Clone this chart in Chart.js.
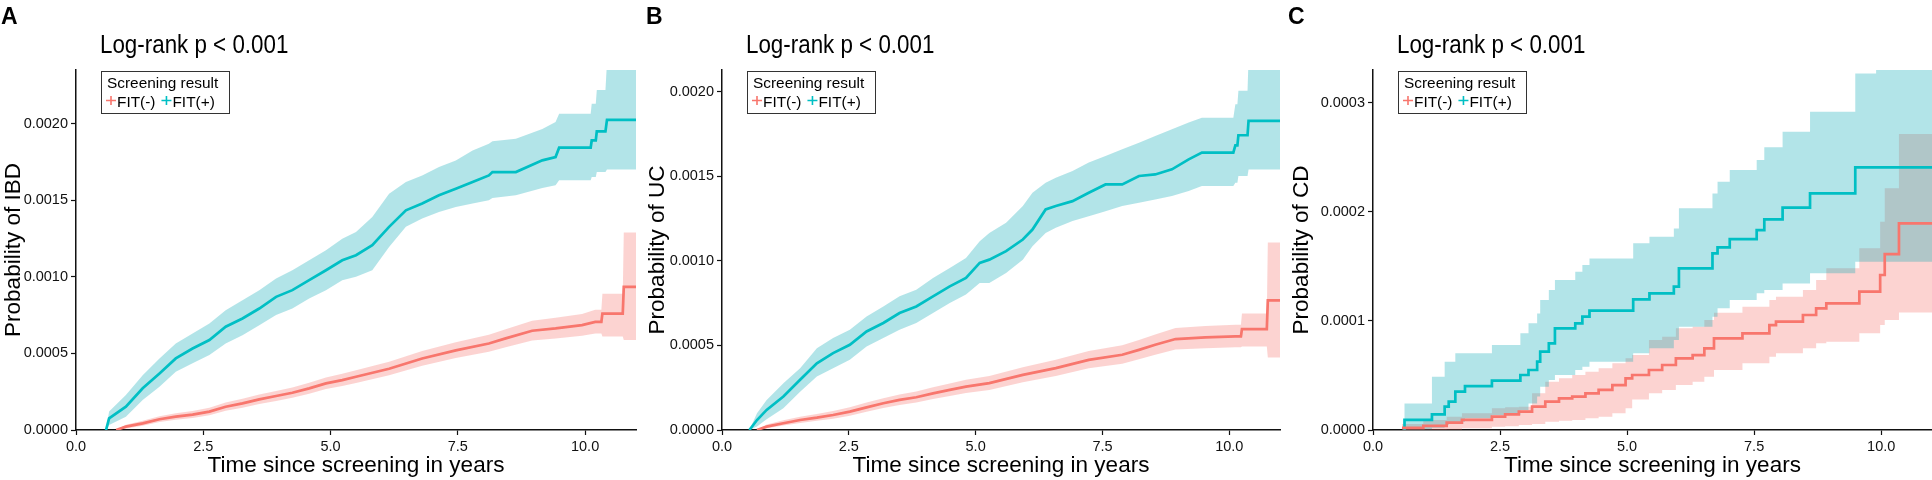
<!DOCTYPE html>
<html>
<head>
<meta charset="utf-8">
<title>Cumulative incidence by screening result</title>
<script src="https://cdn.jsdelivr.net/npm/chart.js@4.4.1/dist/chart.umd.min.js"></script>
<style>
  html, body { margin: 0; padding: 0; background: #fff; }
  body { width: 1932px; height: 480px; position: relative; overflow: hidden; }
  canvas { position: absolute; top: 0; }
</style>
</head>
<body>
<canvas id="chartA" width="644" height="480" style="left:0px"></canvas>
<canvas id="chartB" width="644" height="480" style="left:644px"></canvas>
<canvas id="chartC" width="644" height="480" style="left:1288px"></canvas>
<script>
//================================ Data =================================

const xTicks = [0, 2.5, 5, 7.5, 10];
const ibdYTicks = [0, 0.0005, 0.001, 0.0015, 0.002];
const ucYTicks = [0, 0.0005, 0.001, 0.0015, 0.002];
const cdYTicks = [0, 0.0001, 0.0002, 0.0003];
const groupLabels = ['FIT(-)', 'FIT(+)'];

// A - IBD, FIT(-)
const ibdNegTime = [0.79, 0.98, 1.31, 1.64, 1.96, 2.29, 2.62, 2.94, 3.27, 3.60, 3.93, 4.25, 4.58, 4.91, 5.23, 5.50, 6.15, 6.80, 7.46, 8.11, 8.44, 8.96, 9.42, 9.94, 10.20, 10.32, 10.34, 10.74, 10.76, 11.0];
const ibdNegEst = [0, .000022, .000043, .00007, .000087, .0001, .00012, .000152, .000174, .0002, .000222, .000243, .000272, .000304, .000326, .000348, .0004, .000467, .00052, .000565, .000598, .000648, .000663, .000685, .000706, .000706, .00076, .00076, .000934, .000934];
const ibdNegUpp = [0, .000035, .000061, .00009, .00011, .000124, .000146, .00018, .000204, .000231, .000255, .000278, .000309, .000343, .000367, .00039, .000445, .000515, .000572, .000622, .000658, .000713, .000732, .000758, .000785, .000785, .00089, .00089, .00129, .00129];
const ibdNegLow = [0, .00001, .000028, .000052, .000067, .000078, .000096, .000126, .000146, .00017, .00019, .00021, .000237, .000267, .000287, .000307, .000357, .00042, .00047, .00051, .00054, .000585, .000597, .000615, .00063, .00063, .00061, .00061, .000587, .000587];

// A - IBD, FIT(+)
const ibdPosTime = [0.59, 0.65, 0.98, 1.31, 1.64, 1.96, 2.29, 2.62, 2.94, 3.27, 3.60, 3.93, 4.25, 4.58, 4.91, 5.23, 5.50, 5.82, 6.15, 6.48, 6.80, 7.13, 7.46, 7.79, 8.11, 8.18, 8.64, 9.16, 9.42, 9.49, 10.11, 10.13, 10.21, 10.23, 10.40, 10.43, 11.0];
const ibdPosEst = [0, .000076, .000152, .000272, .000369, .000467, .000532, .000587, .000674, .000728, .000793, .000869, .000913, .000978, .001043, .001108, .001141, .001206, .001326, .001434, .001478, .001532, .001575, .001619, .001662, .001684, .001684, .00176, .001782, .001843, .001843, .00189, .00189, .001949, .001949, .002025, .002025];
const ibdPosUpp = [0, .00012, .000228, .000358, .000467, .000565, .00063, .000695, .000782, .000847, .000913, .000989, .001043, .001108, .001173, .001249, .001293, .001391, .001543, .001619, .001662, .001717, .00176, .001825, .001869, .001885, .001901, .001965, .00201, .002064, .002064, .00213, .00213, .00222, .00222, .0024, .0024];
const ibdPosLow = [0, .000033, .000087, .000196, .000283, .00038, .000435, .000489, .000565, .000619, .000684, .00075, .000793, .000858, .000913, .000978, .001, .001043, .001195, .001326, .00138, .001423, .001456, .001478, .001499, .001515, .001532, .00158, .001597, .00163, .00163, .001651, .001651, .001684, .001684, .0017, .0017];

// B - UC, FIT(-)
const ucNegTime = [0.69, 0.88, 1.21, 1.54, 1.87, 2.19, 2.52, 2.85, 3.18, 3.50, 3.83, 4.16, 4.49, 4.81, 5.27, 5.93, 6.58, 7.23, 7.89, 8.22, 8.54, 8.94, 9.53, 10.12, 10.23, 10.25, 10.74, 10.76, 11.0];
const ucNegEst = [0, .00002, .00004, .000059, .000073, .000089, .000109, .000134, .000158, .000178, .000194, .000217, .000237, .000257, .000277, .000326, .000366, .000415, .000445, .000474, .000504, .000538, .000548, .000554, .000554, .000597, .000597, .000767, .000767];
const ucNegUpp = [0, .000032, .000057, .000079, .000095, .000113, .000135, .000162, .000188, .00021, .000228, .000253, .000275, .000297, .000319, .000372, .000415, .000467, .000501, .000532, .000565, .000603, .000615, .000622, .000622, .00069, .00069, .00111, .00111];
const ucNegLow = [0, .00001, .000026, .000042, .000054, .000067, .000085, .000108, .00013, .000148, .000162, .000183, .000201, .000219, .000237, .000282, .000319, .000365, .000392, .000418, .000445, .000476, .000484, .000489, .000489, .000494, .000494, .000429, .000429];

// B - UC, FIT(+)
const ucPosTime = [0.54, 0.69, 0.88, 1.21, 1.54, 1.87, 2.19, 2.52, 2.85, 3.18, 3.50, 3.83, 4.16, 4.49, 4.81, 5.08, 5.27, 5.60, 5.93, 6.12, 6.38, 6.58, 6.91, 7.23, 7.56, 7.89, 8.22, 8.54, 8.87, 9.20, 9.46, 10.08, 10.12, 10.16, 10.18, 10.36, 10.38, 11.0];
const ucPosEst = [0, .000059, .000119, .000198, .000297, .000395, .000455, .000504, .000583, .000633, .000692, .000731, .000791, .00085, .0009, .000989, .001008, .001058, .001127, .001186, .001305, .001325, .001354, .001404, .001453, .001453, .001503, .001512, .001542, .001601, .001641, .001641, .001684, .001684, .001744, .001744, .001829, .001829];
const ucPosUpp = [0, .000099, .000178, .000277, .000366, .000484, .000544, .000593, .000672, .000731, .000791, .00083, .0009, .000959, .001018, .001117, .001166, .001226, .001325, .001404, .001463, .001493, .001532, .001582, .001621, .001661, .0017, .00174, .001779, .001819, .001848, .001848, .001928, .001928, .002007, .002007, .0022, .0022];
const ucPosLow = [0, .00002, .000063, .000129, .000227, .000316, .000366, .000415, .000494, .000544, .000593, .000633, .000692, .000751, .000801, .00087, .00087, .000929, .001008, .001087, .001166, .001196, .001236, .001265, .001295, .001325, .001344, .001364, .001384, .001414, .001443, .001443, .001463, .001463, .001503, .001503, .001542, .001542];

// C - CD, FIT(-)
const cdNegTime = [0.57, 0.99, 1.45, 1.75, 2.34, 2.60, 2.87, 3.13, 3.39, 3.66, 3.92, 4.18, 4.44, 4.71, 4.97, 5.10, 5.43, 5.69, 5.96, 6.29, 6.52, 6.71, 7.27, 7.80, 7.93, 8.46, 8.72, 8.92, 9.57, 9.98, 10.07, 10.35, 11.0];
const cdNegEst = [.000002, .0000037, .0000067, .0000092, .0000122, .0000144, .0000168, .0000214, .000026, .000029, .0000306, .0000336, .0000367, .0000412, .0000474, .0000504, .000055, .0000596, .0000657, .0000687, .0000749, .000084, .0000886, .0000962, .0000993, .0001054, .0001115, .0001161, .0001268, .0001421, .0001613, .0001894, .0001894];
const cdNegUpp = [.0000055, .0000092, .0000122, .0000153, .0000199, .0000208, .0000214, .0000336, .0000443, .0000474, .0000504, .0000535, .0000565, .0000611, .0000657, .0000687, .0000825, .0000855, .0000932, .0000947, .0001008, .0001075, .000113, .0001191, .0001222, .0001283, .0001375, .0001482, .0001665, .0001909, .0002215, .0002713, .0002713];
const cdNegLow = [0, 0, .0000003, .0000015, .000003, .0000035, .0000046, .0000055, .0000076, .0000085, .0000092, .0000107, .0000122, .0000153, .0000199, .000028, .0000336, .0000367, .0000412, .0000443, .0000489, .000055, .0000611, .0000672, .0000703, .0000749, .0000795, .000081, .0000886, .0000962, .0001008, .0001078, .0001078];

// C - CD, FIT(+)
const cdPosTime = [0.60, 0.62, 1.16, 1.41, 1.49, 1.62, 1.81, 2.34, 2.90, 3.06, 3.23, 3.29, 3.46, 3.58, 3.98, 4.12, 4.26, 5.12, 5.44, 5.92, 6.02, 6.68, 6.78, 7.02, 7.55, 7.70, 8.06, 8.60, 9.49, 9.90, 11.0];
const cdPosEst = [0, .0000092, .0000144, .0000214, .000026, .0000351, .0000403, .0000452, .0000504, .000055, .0000626, .0000718, .0000794, .0000932, .0000978, .0001039, .0001094, .0001198, .0001253, .0001314, .0001482, .0001619, .0001674, .000175, .0001833, .0001931, .0002038, .0002169, .0002407, .0002407, .0002407];
const cdPosUpp = [0, .0000244, .0000489, .0000626, .0000626, .0000703, .0000703, .0000779, .0000886, .0000978, .0001069, .0001191, .0001283, .0001375, .0001451, .0001512, .0001573, .0001711, .0001772, .0001848, .0002032, .0002169, .0002276, .0002383, .0002475, .0002591, .0002734, .0002918, .0003269, .00034, .00034];
const cdPosLow = [0, .0000006, .0000021, .0000046, .0000061, .0000076, .0000107, .0000137, .0000183, .0000244, .0000306, .0000397, .0000458, .0000504, .000055, .000058, .0000626, .0000703, .0000749, .0000825, .0000947, .0001039, .0001115, .0001191, .0001253, .0001283, .0001344, .0001436, .0001543, .0001543, .0001543];

//================================ Styles =================================

const RED = '#F8766D';
const TEAL = '#00BFC4';
const RED_FILL = 'rgba(245, 110, 104, 0.3)';
const TEAL_FILL = 'rgba(0, 165, 178, 0.3)';
const AXIS = '#111';
const TEXT = '#111';
const FONT = '"Liberation Sans", Arial, Helvetica, sans-serif';

//================================ Helpers =================================

function pts(times, vals) {
    return times.map((t, i) => ({ x: t, y: vals[i] }));
}

function curve(label, times, vals, color, stepped) {
    return {
        label: label,
        data: pts(times, vals),
        borderColor: color,
        borderWidth: 2.7,
        pointRadius: 0,
        stepped: stepped,
        fill: false
    };
}

function band(times, vals, fill, stepped) {
    return {
        label: '',
        data: pts(times, vals),
        borderColor: 'rgba(0,0,0,0)',
        borderWidth: 0,
        pointRadius: 0,
        stepped: stepped,
        fill: fill ? '+1' : false,
        backgroundColor: fill || 'rgba(0,0,0,0)'
    };
}

// panel letter, log-rank text and the boxed legend
const panelDecor = {
    id: 'panelDecor',
    afterDraw(chart, args, opts) {
        const { ctx, chartArea } = chart;
        ctx.save();
        ctx.fillStyle = '#000';
        ctx.textBaseline = 'alphabetic';
        ctx.textAlign = 'left';

        ctx.font = 'bold 23px ' + FONT;
        ctx.fillText(opts.letter, opts.letterX, 24);

        ctx.save();
        ctx.translate(chartArea.left + 24, 53);
        ctx.scale(0.86, 1);
        ctx.font = '26px ' + FONT;
        ctx.fillText('Log-rank p < 0.001', 0, 0);
        ctx.restore();

        const bx = chartArea.left + 25, by = 71, bw = 128, bh = 42;
        ctx.fillStyle = '#fff';
        ctx.fillRect(bx, by, bw, bh);
        ctx.strokeStyle = '#333';
        ctx.lineWidth = 1;
        ctx.strokeRect(bx + 0.5, by + 0.5, bw, bh);

        ctx.fillStyle = '#000';
        ctx.font = '15.4px ' + FONT;
        ctx.fillText('Screening result', bx + 6, 88);

        let x = bx + 5;
        [0, 1].forEach(i => {
            const ds = chart.data.datasets[i];
            ctx.strokeStyle = ds.borderColor;
            ctx.lineWidth = 1.6;
            ctx.beginPath();
            ctx.moveTo(x, 100.5);
            ctx.lineTo(x + 10, 100.5);
            ctx.moveTo(x + 5, 96);
            ctx.lineTo(x + 5, 105);
            ctx.stroke();
            ctx.fillStyle = '#000';
            ctx.fillText(ds.label, x + 11, 106.5);
            x += 11 + ctx.measureText(ds.label).width + 6;
        });
        ctx.restore();
    }
};

function makePanel(id, p) {
    const ctx = document.getElementById(id).getContext('2d');
    return new Chart(ctx, {
        type: 'line',
        data: {
            datasets: [
                curve(groupLabels[0], p.negTime, p.negEst, RED, p.stepped),
                curve(groupLabels[1], p.posTime, p.posEst, TEAL, p.stepped),
                band(p.posTime, p.posUpp, TEAL_FILL, p.stepped),
                band(p.posTime, p.posLow, null, p.stepped),
                band(p.negTime, p.negUpp, RED_FILL, p.stepped),
                band(p.negTime, p.negLow, null, p.stepped)
            ]
        },
        options: {
            responsive: false,
            animation: false,
            events: [],
            layout: {
                padding: { left: 0, right: p.left + 644 - p.plotRight, top: 70, bottom: 0 }
            },
            plugins: {
                legend: { display: false },
                tooltip: { enabled: false },
                panelDecor: { letter: p.letter, letterX: p.letterX }
            },
            scales: {
                x: {
                    type: 'linear',
                    min: 0,
                    max: 11,
                    afterBuildTicks: s => { s.ticks = xTicks.map(v => ({ value: v })); },
                    afterFit: s => { s.height = 50; },
                    ticks: {
                        callback: v => v.toFixed(1),
                        color: TEXT,
                        font: { family: FONT, size: 14.5 },
                        padding: 3,
                        maxRotation: 0,
                        autoSkip: false
                    },
                    grid: { display: true, drawOnChartArea: false, drawTicks: true, tickLength: 5, tickColor: AXIS, tickWidth: 1.2 },
                    border: { display: true, color: AXIS, width: 1.5 },
                    title: {
                        display: true,
                        text: 'Time since screening in years',
                        color: '#000',
                        font: { family: FONT, size: 22.5 },
                        padding: { top: 0, bottom: 1 }
                    }
                },
                y: {
                    type: 'linear',
                    min: 0,
                    max: p.yMax,
                    afterBuildTicks: s => { s.ticks = p.yTicks.map(v => ({ value: v })); },
                    afterFit: s => { s.width = p.axisX - p.left; },
                    ticks: {
                        callback: v => v.toFixed(4),
                        color: TEXT,
                        font: { family: FONT, size: 14.5 },
                        padding: 3,
                        autoSkip: false
                    },
                    grid: { display: true, drawOnChartArea: false, drawTicks: true, tickLength: 5, tickColor: AXIS, tickWidth: 1.2 },
                    border: { display: true, color: AXIS, width: 1.5 },
                    title: {
                        display: true,
                        text: p.yTitle,
                        color: '#000',
                        font: { family: FONT, size: 22.5 },
                        padding: { top: 0, bottom: 0 }
                    }
                }
            }
        },
        plugins: [panelDecor]
    });
}

makePanel('chartA', {
    left: 0, axisX: 76, plotRight: 636, yMax: 0.00235, yTicks: ibdYTicks,
    letter: 'A', letterX: 1, yTitle: 'Probability of IBD', stepped: false,
    negTime: ibdNegTime, negEst: ibdNegEst, negUpp: ibdNegUpp, negLow: ibdNegLow,
    posTime: ibdPosTime, posEst: ibdPosEst, posUpp: ibdPosUpp, posLow: ibdPosLow
});

makePanel('chartB', {
    left: 644, axisX: 722, plotRight: 1280, yMax: 0.00213, yTicks: ucYTicks,
    letter: 'B', letterX: 2, yTitle: 'Probability of UC', stepped: false,
    negTime: ucNegTime, negEst: ucNegEst, negUpp: ucNegUpp, negLow: ucNegLow,
    posTime: ucPosTime, posEst: ucPosEst, posUpp: ucPosUpp, posLow: ucPosLow
});

makePanel('chartC', {
    left: 1288, axisX: 1373, plotRight: 1932, yMax: 0.00033, yTicks: cdYTicks,
    letter: 'C', letterX: 0, yTitle: 'Probability of CD', stepped: 'before',
    negTime: cdNegTime, negEst: cdNegEst, negUpp: cdNegUpp, negLow: cdNegLow,
    posTime: cdPosTime, posEst: cdPosEst, posUpp: cdPosUpp, posLow: cdPosLow
});
</script>
</body>
</html>
